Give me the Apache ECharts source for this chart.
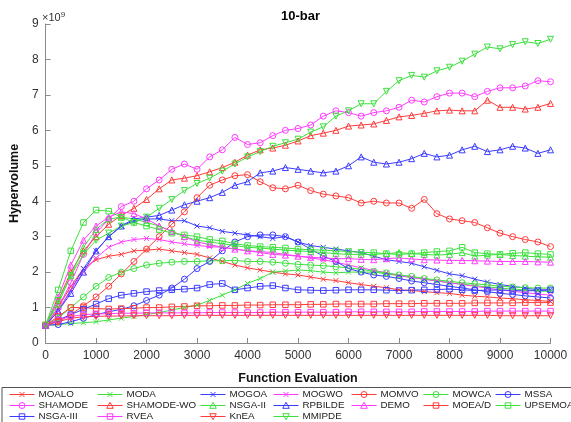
<!DOCTYPE html>
<html><head><meta charset="utf-8">
<script src="https://cdn.jsdelivr.net/npm/echarts@6/dist/echarts.min.js"></script>
<style>html,body{margin:0;padding:0;background:#fff}#c{width:571px;height:422px}</style>
</head><body><div id="c"></div>
<script>
// Function evaluations (x) and hypervolume values (units of 1e9)
const evals = [0,250,500,750,1000,1250,1500,1750,2000,2250,2500,2750,3000,3250,3500,3750,4000,4250,4500,4750,5000,5250,5500,5750,6000,6250,6500,6750,7000,7250,7500,7750,8000,8250,8500,8750,9000,9250,9500,9750,10000];
const yTicks = [0,1,2,3,4,5,6,7,8,9];
const MOALO = [0.5,1.0,1.6,2.1,2.35,2.45,2.5,2.6,2.62,2.65,2.6,2.55,2.5,2.4,2.3,2.2,2.12,2.06,2.0,1.95,1.92,1.86,1.8,1.76,1.7,1.65,1.6,1.56,1.5,1.48,1.45,1.42,1.4,1.35,1.32,1.3,1.27,1.25,1.22,1.2,1.17];
const MODA = [0.5,0.52,0.55,0.57,0.6,0.65,0.7,0.75,0.8,0.86,0.93,1.0,1.07,1.2,1.35,1.5,1.68,1.82,2.0,2.03,2.06,2.04,2.0,1.98,2.0,2.0,2.0,1.95,1.9,1.85,1.8,1.75,1.7,1.66,1.62,1.58,1.55,1.52,1.5,1.47,1.45];
const MOGOA = [0.5,0.9,1.5,2.1,2.6,3.0,3.3,3.45,3.5,3.5,3.45,3.45,3.3,3.25,3.15,3.1,3.05,3.0,2.95,3.0,2.85,2.75,2.7,2.65,2.6,2.55,2.45,2.35,2.3,2.25,2.15,2.05,1.95,1.9,1.8,1.72,1.65,1.6,1.55,1.5,1.5];
const MOGWO = [0.5,0.9,1.5,2.0,2.4,2.7,2.85,2.92,2.95,2.92,2.85,2.8,2.75,2.72,2.7,2.65,2.6,2.58,2.55,2.5,2.45,2.4,2.35,2.28,2.2,2.12,2.05,1.98,1.9,1.85,1.8,1.75,1.7,1.65,1.6,1.55,1.5,1.46,1.42,1.38,1.35];
const MOMVO = [0.5,0.6,0.8,1.05,1.3,1.6,1.95,2.3,2.65,3.0,3.35,3.7,4.1,4.45,4.6,4.72,4.75,4.55,4.38,4.35,4.45,4.3,4.2,4.15,4.1,3.95,4.0,3.95,3.95,3.8,4.05,3.65,3.5,3.45,3.4,3.25,3.1,3.0,2.92,2.85,2.72];
const MOWCA = [0.5,0.7,1.0,1.3,1.6,1.85,2.0,2.1,2.2,2.25,2.28,2.3,2.3,2.32,2.32,2.33,2.3,2.3,2.28,2.25,2.22,2.2,2.18,2.15,2.12,2.08,2.02,1.98,1.92,1.88,1.82,1.78,1.74,1.7,1.67,1.64,1.6,1.58,1.56,1.55,1.55];
const MSSA = [0.5,0.52,0.6,0.7,0.8,0.88,0.95,1.05,1.2,1.35,1.55,1.8,2.1,2.3,2.6,2.85,3.0,3.05,3.05,3.0,2.85,2.65,2.45,2.3,2.1,2.0,1.92,1.88,1.82,1.75,1.7,1.65,1.6,1.55,1.5,1.45,1.4,1.37,1.33,1.3,1.27];
const SHAMODE = [0.5,1.0,1.7,2.5,3.1,3.5,3.85,4.0,4.35,4.6,4.9,5.05,4.9,5.25,5.45,5.8,5.6,5.65,5.85,6.0,6.05,6.15,6.4,6.55,6.5,6.4,6.5,6.55,6.65,6.85,6.8,6.95,7.05,7.05,6.95,7.1,7.2,7.2,7.25,7.4,7.37];
const SHAMODE_WO = [0.5,1.2,2.0,2.6,3.0,3.35,3.6,3.8,4.05,4.35,4.6,4.65,4.72,4.83,4.95,5.1,5.3,5.45,5.5,5.58,5.7,5.85,5.92,6.0,6.12,6.15,6.18,6.28,6.38,6.42,6.48,6.55,6.57,6.55,6.55,6.85,6.65,6.65,6.6,6.65,6.76];
const NSGA_II = [0.5,1.1,1.9,2.7,3.2,3.5,3.55,3.5,3.4,3.3,3.15,3.0,2.9,2.85,2.8,2.75,2.7,2.68,2.65,2.62,2.6,2.58,2.55,2.52,2.5,2.5,2.5,2.52,2.55,2.52,2.5,2.48,2.5,2.55,2.45,2.48,2.5,2.47,2.45,2.43,2.42];
const RPBILDE = [0.5,0.9,1.4,2.0,2.6,3.0,3.3,3.5,3.55,3.6,3.75,3.9,4.0,4.1,4.25,4.45,4.55,4.8,4.85,4.95,4.9,4.85,4.8,4.85,5.0,5.25,5.1,5.05,5.1,5.2,5.35,5.25,5.3,5.45,5.55,5.4,5.45,5.55,5.5,5.35,5.45];
const DEMO = [0.5,1.3,2.2,2.9,3.3,3.55,3.7,3.65,3.5,3.3,3.15,3.0,2.85,2.78,2.7,2.65,2.6,2.55,2.5,2.48,2.45,2.42,2.4,2.38,2.38,2.36,2.35,2.38,2.4,2.37,2.35,2.34,2.33,2.33,2.32,2.31,2.3,2.3,2.3,2.29,2.28];
const MOEAD = [0.5,0.75,1.0,1.0,0.97,0.96,0.97,0.98,1.0,1.0,1.02,1.03,1.05,1.05,1.06,1.06,1.07,1.07,1.08,1.08,1.08,1.09,1.09,1.1,1.1,1.1,1.1,1.11,1.11,1.11,1.12,1.12,1.12,1.12,1.13,1.13,1.13,1.13,1.14,1.14,1.14];
const UPSEMOA = [0.5,1.5,2.6,3.4,3.75,3.72,3.55,3.4,3.3,3.2,3.1,3.05,3.0,2.92,2.88,2.8,2.75,2.72,2.7,2.68,2.65,2.63,2.62,2.6,2.58,2.56,2.55,2.52,2.5,2.52,2.55,2.58,2.6,2.7,2.55,2.52,2.5,2.53,2.55,2.52,2.5];
const NSGA_III = [0.5,0.65,0.8,0.95,1.1,1.25,1.35,1.4,1.45,1.48,1.5,1.52,1.55,1.65,1.68,1.5,1.55,1.6,1.62,1.55,1.5,1.49,1.48,1.49,1.5,1.5,1.5,1.49,1.48,1.49,1.5,1.51,1.52,1.5,1.48,1.49,1.5,1.48,1.47,1.48,1.5];
const RVEA = [0.5,0.65,0.75,0.8,0.82,0.83,0.84,0.84,0.85,0.85,0.85,0.85,0.85,0.86,0.86,0.86,0.86,0.86,0.87,0.87,0.87,0.87,0.87,0.87,0.88,0.88,0.88,0.88,0.88,0.88,0.89,0.89,0.89,0.89,0.89,0.9,0.9,0.9,0.9,0.9,0.9];
const KnEA = [0.5,0.6,0.7,0.74,0.75,0.76,0.76,0.77,0.77,0.77,0.77,0.78,0.78,0.78,0.78,0.78,0.78,0.78,0.78,0.78,0.78,0.78,0.78,0.78,0.78,0.78,0.78,0.78,0.78,0.78,0.78,0.78,0.78,0.78,0.78,0.78,0.77,0.77,0.77,0.77,0.77];
const MMIPDE = [0.5,1.2,1.9,2.5,2.9,3.1,3.3,3.4,3.55,3.8,4.05,4.3,4.5,4.65,4.85,5.05,5.25,5.4,5.55,5.65,5.75,5.95,6.1,6.4,6.55,6.75,6.75,7.1,7.4,7.55,7.5,7.68,7.78,7.95,8.15,8.35,8.3,8.42,8.5,8.45,8.57];

const seriesNames = ['MOALO','MODA','MOGOA','MOGWO','MOMVO','MOWCA','MSSA','SHAMODE','SHAMODE-WO','NSGA-II','RPBILDE','DEMO','MOEA/D','UPSEMOA','NSGA-III','RVEA','KnEA','MMIPDE'];
const seriesData = [MOALO,MODA,MOGOA,MOGWO,MOMVO,MOWCA,MSSA,SHAMODE,SHAMODE_WO,NSGA_II,RPBILDE,DEMO,MOEAD,UPSEMOA,NSGA_III,RVEA,KnEA,MMIPDE];

const R='#ff3b3b', G='#3ee03e', B='#3b3bff', M='#ff3bff';
const colorOf = [R,G,B,M,R,G,B,M,R,G,B,M,R,G,B,M,R,G];
const X='path://M0,0L10,10M10,0L0,10', C='circle', T='triangle', S='rect', D='path://M0,0L10,0L5,9Z';
const symOf = [X,X,X,X,C,C,C,C,T,T,T,T,S,S,S,S,D,D];
const sizeOf = {[X]:5,[C]:6,[T]:6,[S]:5.5,[D]:6};
// legend icons: short line with the marker in the middle (25 x 8 box)
const L0='M0,4L25,4';
const legIcon = {
  [X]:'path://'+L0+'M10,1.5L15,6.5M15,1.5L10,6.5M0,0M25,8',
  [C]:'path://'+L0+'M15.5,4A3,3,0,1,1,9.5,4A3,3,0,1,1,15.5,4M0,0M25,8',
  [T]:'path://'+L0+'M12.5,0.8L15.8,6.8L9.2,6.8Z M0,0M25,8',
  [S]:'path://'+L0+'M9.7,1.3L15.3,1.3L15.3,6.7L9.7,6.7Z M0,0M25,8',
  [D]:'path://'+L0+'M9.2,1.2L15.8,1.2L12.5,7.2Z M0,0M25,8'
};

const series = seriesNames.map((n,i)=>({
  name:n, type:'line', data: evals.map((e,j)=>[e, seriesData[i][j]]),
  symbol: symOf[i], symbolSize: sizeOf[symOf[i]], showAllSymbol:true,
  lineStyle:{color:colorOf[i], width:1},
  itemStyle:{color:'rgba(0,0,0,0)', borderColor:colorOf[i], borderWidth:1},
  emphasis:{disabled:true}, animation:false
}));

const columns = [
  ['MOALO','SHAMODE','NSGA-III'],
  ['MODA','SHAMODE-WO','RVEA'],
  ['MOGOA','NSGA-II','KnEA'],
  ['MOGWO','RPBILDE','MMIPDE'],
  ['MOMVO','DEMO'],
  ['MOWCA','MOEA/D'],
  ['MSSA','UPSEMOA']
];
const colLeft = [9,97,200,273,351,423,495];
const legends = columns.map((col,k)=>({
  data: col.map(n=>{ const i=seriesNames.indexOf(n); return {name:n, icon:legIcon[symOf[i]],
    itemStyle:{color:'rgba(0,0,0,0)', borderColor:colorOf[i], borderWidth:1}}; }),
  orient:'vertical', left: colLeft[k], top: 389, padding:0, itemGap:0,
  itemWidth:25, itemHeight:8, selectedMode:false,
  textStyle:{fontSize:9.8, fontFamily:'Liberation Sans', color:'#222', lineHeight:11, padding:[0,0,0,-1]}
}));

const chart = echarts.init(document.getElementById('c'), null, {renderer:'canvas'});
chart.setOption({
  backgroundColor:'#fff',
  animation:false,
  title:{text:'10-bar', left:295.5, textAlign:'center', top:5,
    textStyle:{fontSize:13, fontWeight:'bold', fontFamily:'Liberation Sans', color:'#000'}},
  grid:{left:41, right:20.5, top:24, bottom:79, containLabel:false},
  xAxis:{type:'value', min:0, max:10000, interval:1000,
    name:'Function Evaluation', nameLocation:'middle', nameGap:29,
    nameTextStyle:{fontSize:12.5, fontWeight:'bold', fontFamily:'Liberation Sans', color:'#111'},
    axisLine:{lineStyle:{color:'#8a8a8a', width:1}},
    axisTick:{inside:true, length:5, lineStyle:{color:'#8a8a8a'}},
    axisLabel:{fontSize:12, fontFamily:'Liberation Sans', color:'#333', margin:7, formatter:v=>String(v)},
    splitLine:{show:false}},
  yAxis:{type:'value', min:0, max:9, interval:1,
    name:'Hypervolume', nameLocation:'middle', nameGap:21,
    nameTextStyle:{fontSize:12.5, fontWeight:'bold', fontFamily:'Liberation Sans', color:'#111'},
    axisLine:{show:true, lineStyle:{color:'#8a8a8a', width:1}},
    axisTick:{show:true, inside:true, length:5, lineStyle:{color:'#8a8a8a'}},
    axisLabel:{fontSize:12, fontFamily:'Liberation Sans', color:'#333', margin:7,
      formatter:v=>yTicks.includes(v)?String(v):''},
    splitLine:{show:false}},
  legend: legends,
  graphic:[
    {type:'rect', shape:{x:2, y:387.5, width:580, height:40}, style:{fill:'none', stroke:'#555', lineWidth:1}, z:-1},
    {type:'text', left:42, top:11, style:{text:'×10{s|9}', rich:{s:{fontSize:8, verticalAlign:'top', padding:[0,0,6,0], fontFamily:'Liberation Sans', fill:'#333'}}, fontSize:11, fontFamily:'Liberation Sans', fill:'#333'}}
  ],
  series: series
});
</script></body></html>
